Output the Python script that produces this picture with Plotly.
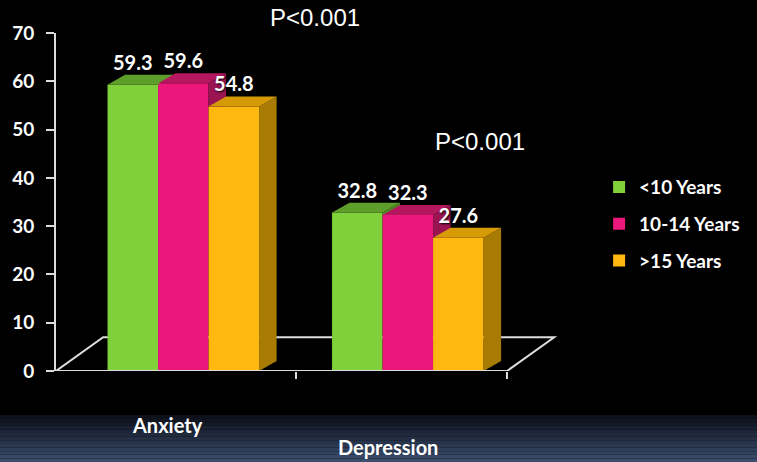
import plotly.graph_objects as go

# ---------------- data ----------------
categories = ["Anxiety", "Depression"]
groups = ["<10 Years", "10-14 Years", ">15 Years"]
anxiety = [59.3, 59.6, 54.8]
depression = [32.8, 32.3, 27.6]
p_labels = ["P<0.001", "P<0.001"]
y_ticks = [0, 10, 20, 30, 40, 50, 60, 70]

# ---------------- style ----------------
front_colors = ["#80D03C", "#EB177B", "#FFB80F"]
top_colors = ["#5E9F2C", "#B5175F", "#D69A05"]
side_colors = ["#4E8A24", "#9A1452", "#A87C04"]
FONT = "Lato"
WHITE = "#FFFFFF"
LINE = "#DDDDDD"

BAR_W = 0.225          # bar width in x units
DX, DY = 0.078, 2.07   # 3-D depth offset (x units, y units)
X_MIN, X_MAX = -0.567, 1.7
FLOOR_RIGHT = 1.442
FDX, FDY = 0.21, 7.0   # floor depth offset

values_by_cat = [anxiety, depression]
xs = list(range(len(categories)))
n = len(groups)
offsets = [-1.5 * BAR_W + i * BAR_W for i in range(n)]

fig = go.Figure()

# front faces as real bars
for i, g in enumerate(groups):
    fig.add_trace(go.Bar(
        x=xs, y=[values_by_cat[j][i] for j in xs],
        width=BAR_W, offset=offsets[i],
        marker=dict(color=front_colors[i], line=dict(width=0)),
        name=g, legendgroup=g,
        hovertemplate="%{y}<extra>" + g + "</extra>",
    ))

# side and top faces (painter's order, left to right)
for j in xs:
    vals = values_by_cat[j]
    for i in range(n):
        v = vals[i]
        x0 = j + offsets[i]
        x1 = x0 + BAR_W
        # side face
        if i == n - 1:
            sx = [x1, x1 + DX, x1 + DX, x1, x1]
            sy = [0, DY, v + DY, v, 0]
        else:
            nv = vals[i + 1]
            if v > nv:
                sx = [x1, x1, x1 + DX, x1 + DX, x1]
                sy = [nv, v, v + DY, nv, nv]
            else:
                sx, sy = None, None
        if sx is not None:
            fig.add_trace(go.Scatter(
                x=sx, y=sy, mode="lines", fill="toself",
                fillcolor=side_colors[i], line=dict(width=0),
                showlegend=False, hoverinfo="skip"))
        # top face
        fig.add_trace(go.Scatter(
            x=[x0, x1, x1 + DX, x0 + DX, x0],
            y=[v, v, v + DY, v + DY, v],
            mode="lines", fill="toself",
            fillcolor=top_colors[i], line=dict(width=0),
            showlegend=False, hoverinfo="skip"))

# value labels
lab_x, lab_y, lab_t = [], [], []
for j in xs:
    for i in range(n):
        v = values_by_cat[j][i]
        lab_x.append(j + offsets[i] + BAR_W / 2)
        lab_y.append(v + DY)
        lab_t.append(f"{v:.1f}")
fig.add_trace(go.Scatter(
    x=lab_x, y=lab_y, text=lab_t, mode="text", textposition="top center",
    textfont=dict(family=FONT, size=20, color=WHITE, weight="bold",
                  shadow="1px 1px 2px #000000"),
    showlegend=False, hoverinfo="skip", cliponaxis=False))

# ---------------- floor ----------------
shapes = []
shapes.append(dict(
    type="path", xref="x", yref="y", layer="below",
    path=(f"M{X_MIN},0 L{X_MIN + FDX},{FDY} L{FLOOR_RIGHT + FDX},{FDY} "
          f"L{FLOOR_RIGHT},0"),
    line=dict(color=LINE, width=2)))
shapes.append(dict(
    type="line", xref="x", yref="y", layer="above",
    x0=X_MIN, y0=0, x1=FLOOR_RIGHT, y1=0,
    line=dict(color=LINE, width=2)))

# bottom gradient band (background decoration)
band_top, band_bot = -0.13, -0.28
c0 = (14, 18, 28)
c1 = (62, 82, 116)
nb = 14
for k in range(nb):
    t = k / (nb - 1)
    col = tuple(int(c0[m] + (c1[m] - c0[m]) * t) for m in range(3))
    ya = band_top + (band_bot - band_top) * k / nb
    yb = band_top + (band_bot - band_top) * (k + 1) / nb
    shapes.append(dict(
        type="rect", xref="paper", yref="paper", layer="below",
        x0=-0.2, x1=1.5, y0=yb, y1=ya,
        fillcolor="rgb(%d,%d,%d)" % col, line=dict(width=0)))

# ---------------- annotations ----------------
annotations = []
cat_y = [-0.16, -0.225]
cat_shift = [-16, -20]
for j, c in enumerate(categories):
    annotations.append(dict(
        x=xs[j], y=cat_y[j], xref="x", yref="paper", text=c,
        showarrow=False, xshift=cat_shift[j], yanchor="middle",
        font=dict(family=FONT, size=20, color=WHITE, weight="bold")))
p_pos = [(0.508, 1.047), (0.833, 0.678)]
for k, p in enumerate(p_labels):
    annotations.append(dict(
        x=p_pos[k][0], y=p_pos[k][1], xref="paper", yref="paper", text=p,
        showarrow=False, xanchor="center", yanchor="middle",
        font=dict(family="Liberation Sans, Arial", size=24, color=WHITE)))

fig.update_layout(
    width=757, height=462, autosize=False,
    margin=dict(l=53, r=180, t=33, b=91),
    paper_bgcolor="#000000", plot_bgcolor="#000000",
    barmode="overlay",
    showlegend=True,
    legend=dict(
        x=1.067, y=0.60, xanchor="left", yanchor="top",
        bgcolor="rgba(0,0,0,0)", traceorder="grouped", tracegroupgap=9,
        font=dict(family=FONT, size=19, color=WHITE, weight="bold")),
    xaxis=dict(
        range=[X_MIN, X_MAX], showgrid=False, zeroline=False, showline=False,
        tickvals=[0.5, FLOOR_RIGHT], ticktext=["", ""], ticks="outside",
        ticklen=7, tickwidth=2, tickcolor=LINE, fixedrange=True),
    yaxis=dict(
        range=[0, 70], showgrid=False, zeroline=False, showline=True,
        linecolor=LINE, linewidth=2, tickvals=y_ticks, ticks="outside",
        ticklen=8, tickwidth=2, tickcolor=LINE, ticklabelstandoff=8,
        tickfont=dict(family=FONT, size=19, color=WHITE, weight="bold"),
        fixedrange=True),
    shapes=shapes, annotations=annotations,
)

fig.write_html("out.html",
               config={"displayModeBar": False},
               post_script="document.body.style.margin='0px';"
                           "document.body.style.background='#000';")
